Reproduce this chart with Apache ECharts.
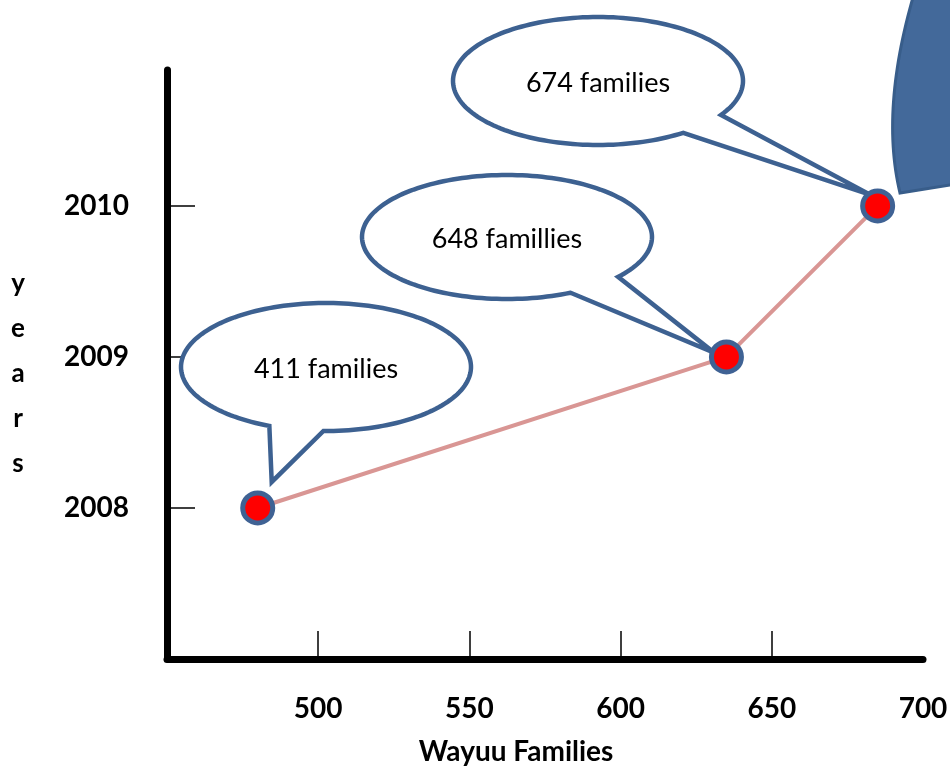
<!DOCTYPE html>
<html>
<head>
<meta charset="utf-8">
<title>Wayuu Families</title>
<script src="https://cdn.jsdelivr.net/npm/echarts@6/dist/echarts.min.js"></script>
<style>
  html, body { margin: 0; padding: 0; background: #ffffff; }
  #chart { width: 950px; height: 768px; }
</style>
</head>
<body>
<div id="chart"></div>
<script>
// Years (vertical axis) and the family counts they are plotted against
const years = [2008, 2009, 2010];
const familyValues = [480, 635, 685];

// Callout texts attached to each point
const calloutCounts = [411, 648, 674];
const calloutWords = ['families', 'famillies', 'families'];

// Tick labels
const xTickLabels = [500, 550, 600, 650, 700];
const xTickMarks = [500, 550, 600, 650];
const yTickLabels = [2008, 2009, 2010];

const FONT = 'Lato, "Open Sans", sans-serif';
const BALLOON_STROKE = '#3D6191';

const chart = echarts.init(document.getElementById('chart'), null, { renderer: 'canvas' });

const points = years.map((y, i) => [familyValues[i], y]);

chart.setOption({
  animation: false,
  backgroundColor: '#ffffff',
  grid: { left: 167, right: 27, top: 70, bottom: 109, outerBoundsMode: 'none' },
  xAxis: {
    type: 'value',
    min: 450,
    max: 700,
    splitLine: { show: false },
    axisLine: { show: true, lineStyle: { color: '#000', width: 7 } },
    axisTick: { show: true, inside: true, length: 28, customValues: xTickMarks,
      lineStyle: { color: '#000', width: 1.5 } },
    axisLabel: { customValues: xTickLabels, margin: 36, color: '#000',
      fontFamily: FONT, fontWeight: 'bold', fontSize: 28,
      formatter: v => String(v) }
  },
  yAxis: {
    type: 'value',
    min: 2007,
    max: 2010.9,
    splitLine: { show: false },
    axisLine: { show: true, lineStyle: { color: '#000', width: 7 } },
    axisTick: { show: true, inside: true, length: 28, customValues: yTickLabels,
      lineStyle: { color: '#000', width: 1.5 } },
    axisLabel: { customValues: yTickLabels, margin: 38, color: '#000',
      fontFamily: FONT, fontWeight: 'bold', fontSize: 28,
      formatter: v => String(v) }
  },
  series: [{
    type: 'line',
    data: points,
    z: 5,
    symbol: 'circle',
    symbolSize: 30,
    itemStyle: { color: '#FF0000', borderColor: '#3F6294', borderWidth: 5 },
    lineStyle: { color: '#D99694', width: 4 }
  }]
});

// Speech balloon outline: ellipse with a gap between two angles, closed by a tail tip
function balloonPoints(cx, cy, rx, ry, gapFrom, gapTo, tip) {
  const pts = [];
  for (let a = gapTo; a <= gapFrom + 360; a += 2) {
    const r = a * Math.PI / 180;
    pts.push([cx + rx * Math.cos(r), cy + ry * Math.sin(r)]);
  }
  const rEnd = (gapFrom + 360) * Math.PI / 180;
  pts.push([cx + rx * Math.cos(rEnd), cy + ry * Math.sin(rEnd)]);
  pts.push(tip);
  return pts;
}

// Balloon layout: ellipse centre/radii, tail gap angles, and tail tip offset from the point
const balloons = [
  { cx: 326, cy: 367, rx: 145, ry: 64, gapFrom: 91, gapTo: 113, tipDx: 14, tipDy: -26 },
  { cx: 507, cy: 237, rx: 145, ry: 62, gapFrom: 40, gapTo: 64, tipDx: -12, tipDy: -4 },
  { cx: 598, cy: 81, rx: 145, ry: 64, gapFrom: 32, gapTo: 54, tipDx: -7, tipDy: -11 }
];

const graphics = [];

// Large shape partly outside the top-right corner
const bigShape = [];
const p0 = [914, -6], pc = [880, 110], p1 = [900, 193];
for (let i = 0; i <= 30; i++) {
  const t = i / 30;
  bigShape.push([
    (1 - t) * (1 - t) * p0[0] + 2 * (1 - t) * t * pc[0] + t * t * p1[0],
    (1 - t) * (1 - t) * p0[1] + 2 * (1 - t) * t * pc[1] + t * t * p1[1]
  ]);
}
bigShape.push([956, 184], [956, -6]);
graphics.push({
  type: 'polygon', z: 1,
  shape: { points: bigShape },
  style: { fill: '#43699A', stroke: '#385D8A', lineWidth: 3 }
});

balloons.forEach((b, i) => {
  const px = chart.convertToPixel({ gridIndex: 0 }, points[i]);
  const tip = [px[0] + b.tipDx, px[1] + b.tipDy];
  graphics.push({
    type: 'polygon', z: 1,
    shape: { points: balloonPoints(b.cx, b.cy, b.rx, b.ry, b.gapFrom, b.gapTo, tip) },
    style: { fill: '#ffffff', stroke: BALLOON_STROKE, lineWidth: 4.5, lineJoin: 'miter' }
  });
  graphics.push({
    type: 'text', z: 2,
    x: b.cx, y: b.cy + 2,
    style: {
      text: calloutCounts[i] + ' ' + calloutWords[i],
      fill: '#000', font: '27px ' + FONT,
      align: 'center', verticalAlign: 'middle'
    }
  });
});

// Axis titles
graphics.push({
  type: 'text', z: 2,
  x: 516, y: 752,
  style: { text: 'Wayuu Families', fill: '#000', font: 'bold 28px ' + FONT,
    align: 'center', verticalAlign: 'middle' }
});
graphics.push({
  type: 'text', z: 2,
  x: 18, y: 374,
  style: { text: 'y\ne\na\nr\ns', fill: '#000', font: 'bold 26px ' + FONT,
    lineHeight: 45, align: 'center', verticalAlign: 'middle' }
});

chart.setOption({ graphic: { elements: graphics } });
</script>
</body>
</html>
